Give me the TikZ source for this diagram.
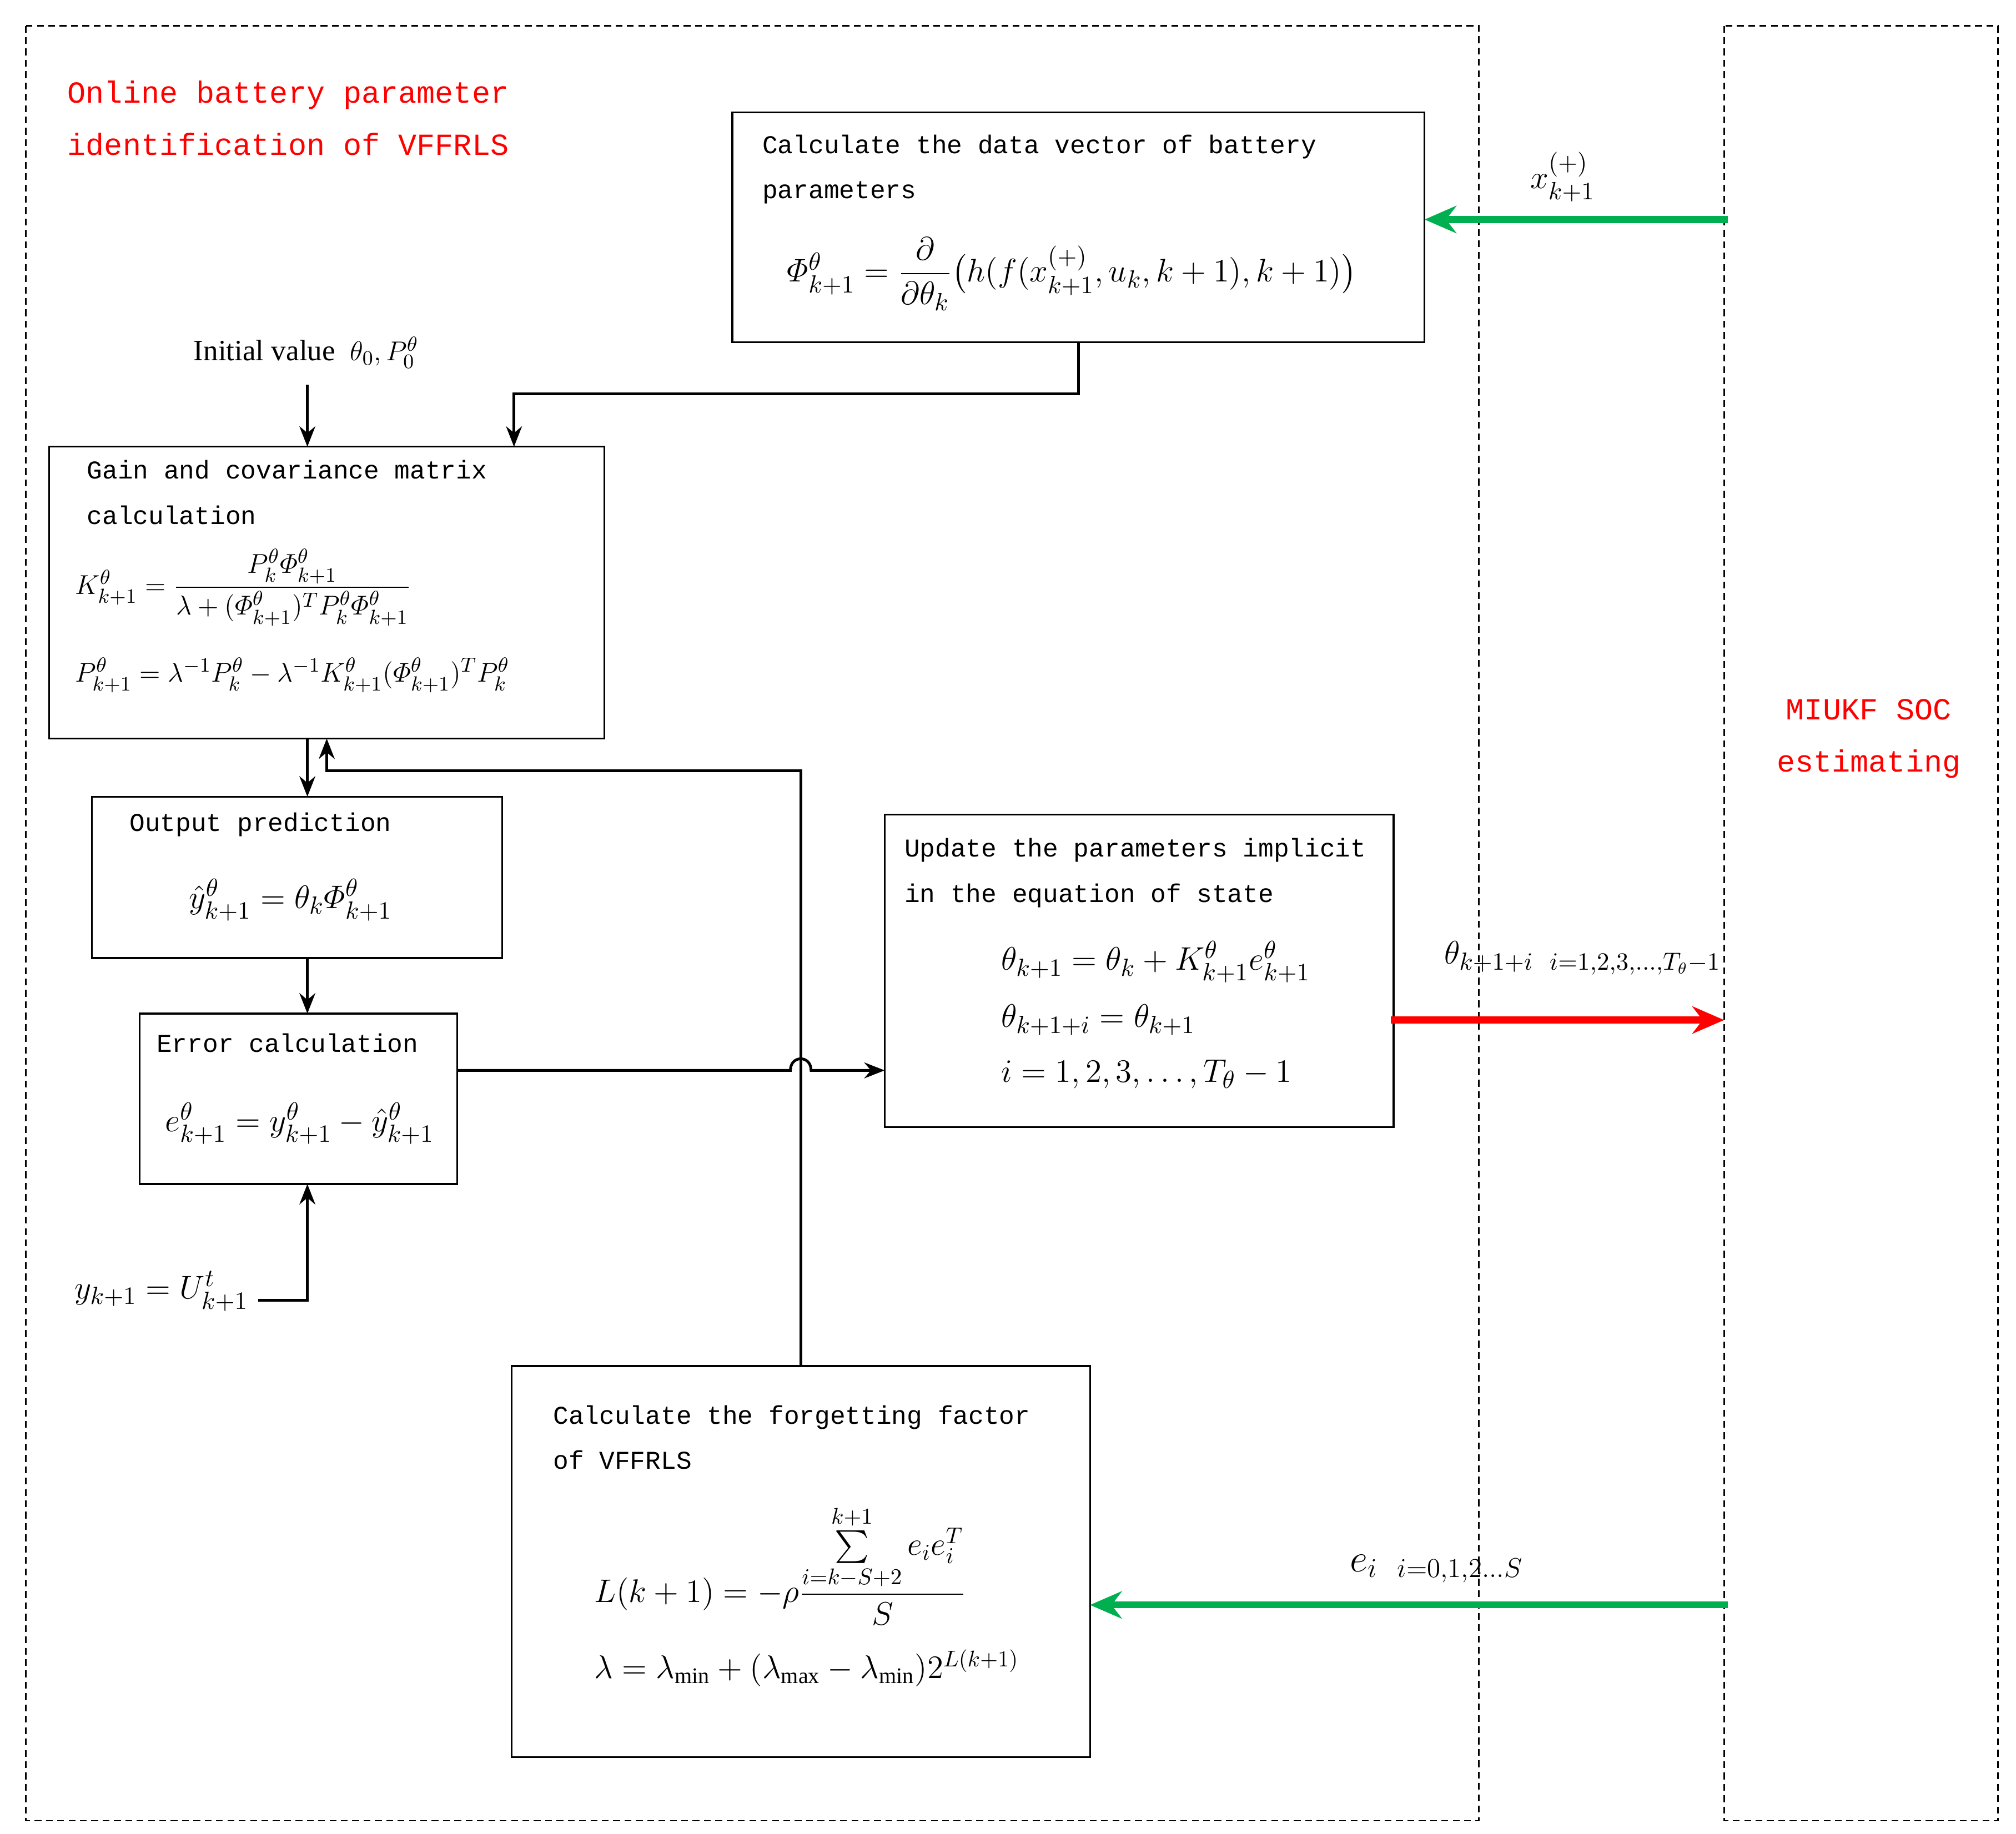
\documentclass[tikz,border=0pt]{standalone}
\usepackage{amsmath}
\usepackage{fontspec}
\setmainfont{Liberation Serif}
\setmonofont{Liberation Mono}
\usetikzlibrary{arrows.meta}
\definecolor{grn}{RGB}{0,176,80}
\begin{document}
\begin{tikzpicture}[x=0.02cm,y=-0.02cm,
  dbox/.style={draw,densely dashed,line width=0.6pt},
  box/.style={draw,line width=0.8pt},
  tt/.style={font=\fontsize{11.3}{20}\selectfont\ttfamily,anchor=north west,align=left,inner sep=0},
  ttr/.style={text=red,font=\fontsize{13.5}{23}\selectfont\ttfamily,inner sep=0},
  mth/.style={font=\fontsize{15}{20}\selectfont,inner sep=0},
  conn/.style={line width=1.2pt,-{Stealth[length=9pt,width=7pt]}},
  garr/.style={grn,line width=3pt,-{Stealth[length=14pt,width=12pt]}},
  rarr/.style={red,line width=3pt,-{Stealth[length=14pt,width=12pt]}}]
\useasboundingbox (0,0) rectangle (1561,1420);
\draw[dbox] (20,20) rectangle (1145,1410);
\draw[dbox] (1335,20) rectangle (1547,1410);
\node[ttr,anchor=north west,align=left] (title) at (52,62) {Online battery parameter\\identification of VFFRLS};
\node[ttr,anchor=center,align=center] (miukf) at (1447,572) {MIUKF SOC\\estimating};
% box1
\draw[box] (567,87) rectangle (1103,265);
\node[tt] (t1) at (590,104) {Calculate the data vector of battery\\parameters};
\node[mth] (f1) at (830,212) {$\varPhi^{\theta}_{k+1}=\dfrac{\partial}{\partial\theta_k}\big(h(f(x^{(+)}_{k+1},u_k,k+1),k+1)\big)$};
\coordinate (b1r) at (1103,170);
\coordinate (b1b) at (835,265);
\coordinate (g1s) at (1338,170);
\draw[garr] (g1s) -- (b1r);
\node[mth] (lx) at (1210,137) {$x^{(+)}_{k+1}$};
% initial
\node[mth,font=\fontsize{13}{18}\selectfont] (init) at (237,273) {Initial value\ \ $\theta_0,P_0^{\theta}$};
\coordinate (i1) at (238,298);
\coordinate (b2t) at (238,346);
\draw[conn] (i1) -- (b2t);
% box2
\draw[box] (38,346) rectangle (468,572);
\node[tt] (t2) at (67,356) {Gain and covariance matrix\\calculation};
\node[mth,anchor=west,font=\fontsize{13}{16}\selectfont] (f2a) at (58,455) {$K^{\theta}_{k+1}=\dfrac{P^{\theta}_k\varPhi^{\theta}_{k+1}}{\lambda+(\varPhi^{\theta}_{k+1})^T P^{\theta}_k\varPhi^{\theta}_{k+1}}$};
\node[mth,anchor=west,font=\fontsize{13}{16}\selectfont] (f2b) at (58,523) {$P^{\theta}_{k+1}=\lambda^{-1}P^{\theta}_k-\lambda^{-1}K^{\theta}_{k+1}(\varPhi^{\theta}_{k+1})^T P^{\theta}_k$};
\coordinate (b2tr) at (398,346);
\draw[conn] (b1b) -- (835,305) -- (398,305) -- (b2tr);
% box3
\draw[box] (71,617) rectangle (389,742);
\node[tt] (t3) at (100,629) {Output prediction};
\node[mth] (f3) at (225,697) {$\hat y^{\theta}_{k+1}=\theta_k\varPhi^{\theta}_{k+1}$};
\draw[conn] (238,572) -- (238,617);
\draw[conn] (238,742) -- (238,785);
% box4
\draw[box] (108,785) rectangle (354,917);
\node[tt] (t4) at (121,800) {Error calculation};
\node[mth] (f4) at (232,870) {$e^{\theta}_{k+1}=y^{\theta}_{k+1}-\hat y^{\theta}_{k+1}$};
\node[mth] (yk) at (125,1000) {$y_{k+1}=U^t_{k+1}$};
\draw[conn] (200,1007) -- (238,1007) -- (238,917);
% box5
\draw[box] (685,631) rectangle (1079,873);
\node[tt] (t5) at (700,649) {Update the parameters implicit\\in the equation of state};
\node[mth,anchor=west] (f5a) at (775,745) {$\theta_{k+1}=\theta_k+K^{\theta}_{k+1}e^{\theta}_{k+1}$};
\node[mth,anchor=west] (f5b) at (775,790) {$\theta_{k+1+i}=\theta_{k+1}$};
\node[mth,anchor=west] (f5c) at (775,832) {$i=1,2,3,\ldots,T_\theta-1$};
\draw[conn] (354,829) -- (612,829) .. controls (612,817) and (628,817) .. (628,829) -- (685,829);
\draw[rarr] (1077,790) -- (1335,790);
\node[mth,anchor=west] (lth) at (1118,742) {$\theta_{k+1+i\ \ i=1,2,3,\ldots,T_\theta-1}$};
% box6
\draw[box] (396,1058) rectangle (844,1361);
\node[tt] (t6) at (428,1088) {Calculate the forgetting factor\\of VFFRLS};
\node[mth,anchor=west,font=\fontsize{14}{16}\selectfont] (f6a) at (460,1212) {$L(k+1)=-\rho\dfrac{\sum\limits_{i=k-S+2}^{k+1}e_ie_i^T}{S}$};
\node[mth,anchor=west,font=\fontsize{14}{16}\selectfont] (f6b) at (460,1292) {$\lambda=\lambda_{\min}+(\lambda_{\max}-\lambda_{\min})2^{L(k+1)}$};
\draw[conn] (620,1058) -- (620,597) -- (253,597) -- (253,572);
\draw[garr] (1338,1243) -- (844,1243);
\node[mth,anchor=west,font=\fontsize{18}{20}\selectfont] (lei) at (1045,1215) {$e_{i\ \ i=0,1,2\ldots S}$};
\end{tikzpicture}
\end{document}
